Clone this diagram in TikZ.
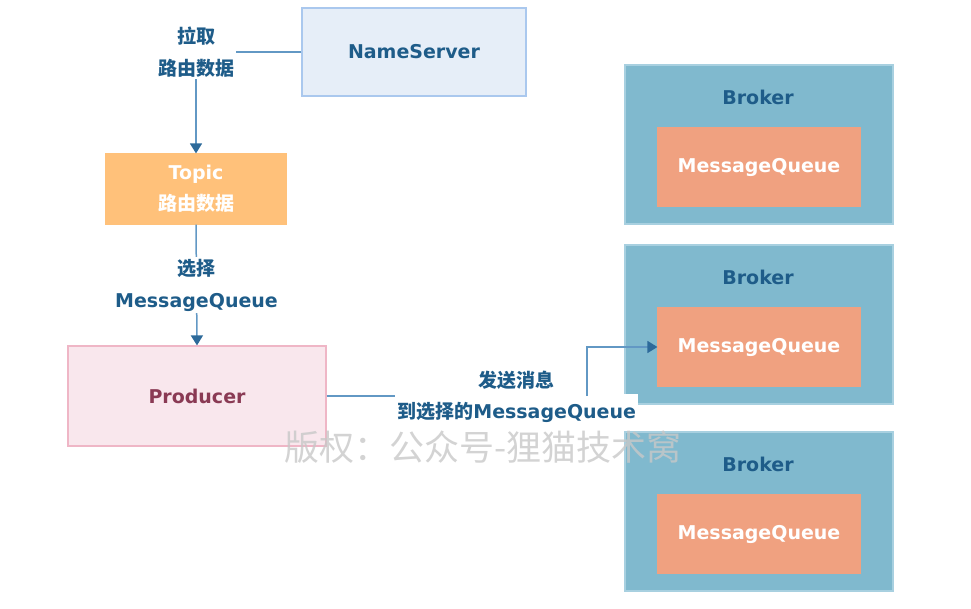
\documentclass[tikz,border=0pt]{standalone}
\usepackage{fontspec}
\setmainfont{DejaVu Sans}
\newfontfamily\cjk{Noto Sans CJK SC}
\usetikzlibrary{arrows.meta}
\definecolor{txtblue}{RGB}{30,92,137}
\definecolor{linecol}{RGB}{98,152,196}
\definecolor{tipcol}{RGB}{45,106,154}
\definecolor{nsfill}{RGB}{230,238,248}
\definecolor{nsdraw}{RGB}{170,200,238}
\definecolor{topicfill}{RGB}{255,193,122}
\definecolor{prodfill}{RGB}{249,231,237}
\definecolor{proddraw}{RGB}{239,182,198}
\definecolor{prodtxt}{RGB}{138,58,84}
\definecolor{brokerfill}{RGB}{128,185,206}
\definecolor{brokerdraw}{RGB}{168,208,224}
\definecolor{mqfill}{RGB}{240,161,128}
\definecolor{wmark}{RGB}{200,200,200}
\tikzset{
  box/.style={rectangle, inner sep=0pt, line width=1.2pt, font=\fontsize{19}{22}\selectfont\bfseries},
  lbl/.style={fill=white, inner sep=2pt, align=center, text=txtblue, font=\fontsize{19}{32}\selectfont\bfseries},
  conn/.style={draw=linecol, line width=1.5pt},
  arr/.style={conn, -{Triangle[width=12pt,length=10pt,color=tipcol]}},
}
\begin{document}
\begin{tikzpicture}[x=1pt,y=-1pt]
\useasboundingbox (0,0) rectangle (971,608);
% NameServer
\node[box, draw=nsdraw, fill=nsfill, minimum width=224pt, minimum height=88pt, text=txtblue] (ns) at (414,52) {NameServer};
% Topic
\node[box, draw=topicfill, fill=topicfill, minimum width=180pt, minimum height=70pt, text=white, align=center, font=\fontsize{19}{31}\selectfont\bfseries] (topic) at (196,189) {Topic\\{\cjk\bfseries 路由数据}};
% Producer
\node[box, draw=proddraw, fill=prodfill, minimum width=258pt, minimum height=100pt, text=prodtxt] (prod) at (197,396) {Producer};
% Brokers
\foreach \i/\y in {1/144.5, 2/324.5, 3/511.5}{
  \node[box, draw=brokerdraw, fill=brokerfill, minimum width=268pt, minimum height=159pt] (b\i) at (759,\y) {};
  \node[text=txtblue, font=\fontsize{19}{22}\selectfont\bfseries] (bl\i) at (758,\y-47.5) {Broker};
  \node[box, draw=mqfill, fill=mqfill, minimum width=202pt, minimum height=78pt, text=white] (mq\i) at (759,\y+22.5) {MessageQueue};
}
% connectors
\draw[arr] (ns.west) -| node[lbl, pos=0.5] {\cjk\bfseries 拉取\\\cjk\bfseries 路由数据} (topic.north);
\draw[arr] (topic.south) -- node[lbl] {{\cjk\bfseries 选择}\\MessageQueue} (prod.north);
\coordinate (turn) at (587,347);
\draw[conn] (prod.east) -- (prod.east -| turn)
  node[lbl, pos=0.73, yshift=16pt, inner ysep=1pt] (send1) {\cjk\bfseries 发送消息}
  node[lbl, pos=0.73, yshift=-16pt, inner ysep=8pt] (send2) {{\cjk\bfseries 到选择的}MessageQueue};
\draw[arr] (prod.east -| turn) -- (turn) -- (mq2.west);
% watermark
\node[text=wmark, opacity=0.8, font=\cjk\fontsize{35}{40}\selectfont] (wm) at (483,447) {版权：公众号-狸猫技术窝};
\end{tikzpicture}
\end{document}
